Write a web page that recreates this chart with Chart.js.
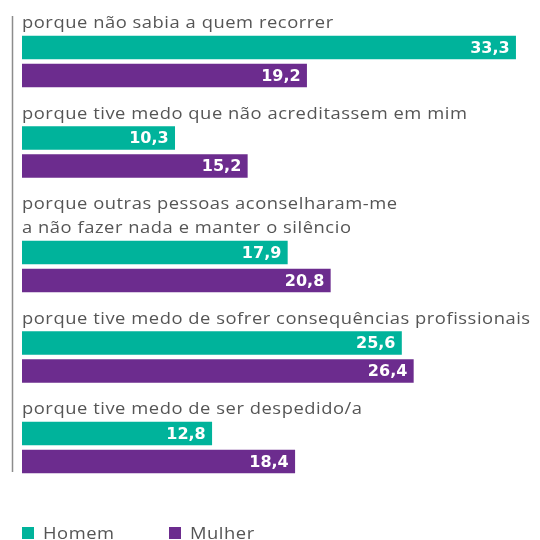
<!DOCTYPE html>
<html>
<head>
<meta charset="utf-8">
<script src="https://cdn.jsdelivr.net/npm/chart.js@4/dist/chart.umd.min.js"></script>
<style>
  html, body { margin: 0; padding: 0; background: #ffffff; }
  #wrap { width: 540px; height: 540px; position: relative; }
</style>
</head>
<body>
<div id="wrap"><canvas id="c" width="540" height="540"></canvas></div>
<script>
// ---- data ----
const categories = [
  ["porque não sabia a quem recorrer"],
  ["porque tive medo que não acreditassem em mim"],
  ["porque outras pessoas aconselharam-me", "a não fazer nada e manter o silêncio"],
  ["porque tive medo de sofrer consequências profissionais"],
  ["porque tive medo de ser despedido/a"]
];
const homem  = [33.3, 10.3, 17.9, 25.6, 12.8];
const mulher = [19.2, 15.2, 20.8, 26.4, 18.4];
const seriesNames = ["Homem", "Mulher"];

// ---- style / layout ----
const COLORS = ["#00B39B", "#6C2C8E"];
const TEXT_COLOR = "#555555";
const LINE_H = 24, BAR_H = 23, BAR_GAP = 5, GROUP_GAP = 15.5, TOP = 12;
const CAT_FONT = "17px 'Open Sans'";
const CAT_SPACING = "0.5px";
const CAT_STRETCH = 1.08;
const VAL_FONT = "bold 16px 'DejaVu Sans'";

// compute row centres (in pixel units of the y scale) from label line counts
const layout = [];
let cursor = TOP;
categories.forEach(lines => {
  const greenTop = cursor + lines.length * LINE_H;
  const c1 = greenTop + BAR_H / 2;
  const c2 = c1 + BAR_H + BAR_GAP;
  layout.push({ greenTop, c1, c2, lines });
  cursor = c2 + BAR_H / 2 + GROUP_GAP;
});

const dsH = homem.map((v, i) => ({ x: v, y: layout[i].c1 }));
const dsM = mulher.map((v, i) => ({ x: v, y: layout[i].c2 }));

function wideText(ctx, t, x, y) {
  ctx.save();
  ctx.translate(x, y);
  ctx.scale(CAT_STRETCH, 1);
  ctx.fillText(t, 0, 0);
  ctx.restore();
}

const decoPlugin = {
  id: 'deco',
  afterDatasetsDraw(chart) {
    const ctx = chart.ctx;
    const ys = chart.scales.y, xs = chart.scales.x;
    ctx.save();
    // vertical axis line
    ctx.strokeStyle = "#8c8c8c";
    ctx.lineWidth = 1.5;
    ctx.beginPath();
    ctx.moveTo(12.5, 16);
    ctx.lineTo(12.5, 472);
    ctx.stroke();
    // category labels
    ctx.fillStyle = TEXT_COLOR;
    ctx.font = CAT_FONT;
    ctx.letterSpacing = CAT_SPACING;
    ctx.textAlign = "left";
    ctx.textBaseline = "alphabetic";
    layout.forEach(g => {
      const topPx = ys.getPixelForValue(g.greenTop);
      const n = g.lines.length;
      g.lines.forEach((t, k) => {
        wideText(ctx, t, xs.left, topPx - 8 - (n - 1 - k) * LINE_H);
      });
    });
    // value labels
    ctx.letterSpacing = "0px";
    ctx.font = VAL_FONT;
    ctx.fillStyle = "#ffffff";
    ctx.textAlign = "right";
    ctx.textBaseline = "middle";
    chart.data.datasets.forEach((ds, di) => {
      const meta = chart.getDatasetMeta(di);
      meta.data.forEach((bar, i) => {
        const v = ds.data[i].x;
        ctx.fillText(v.toFixed(1).replace('.', ','), bar.x - 6, bar.y + 1);
      });
    });
    // legend
    ctx.font = CAT_FONT;
    ctx.letterSpacing = CAT_SPACING;
    ctx.textAlign = "left";
    ctx.textBaseline = "alphabetic";
    const legX = [22, 169];
    seriesNames.forEach((name, i) => {
      ctx.fillStyle = COLORS[i];
      ctx.fillRect(legX[i], 527, 12, 12);
      ctx.fillStyle = TEXT_COLOR;
      wideText(ctx, name, legX[i] + 21, 539);
    });
    ctx.restore();
  }
};

new Chart(document.getElementById('c'), {
  type: 'bar',
  data: {
    datasets: [
      { label: seriesNames[0], data: dsH, backgroundColor: COLORS[0], barThickness: BAR_H, grouped: false },
      { label: seriesNames[1], data: dsM, backgroundColor: COLORS[1], barThickness: BAR_H, grouped: false }
    ]
  },
  options: {
    indexAxis: 'y',
    responsive: false,
    animation: false,
    layout: { padding: { left: 22, right: 14, top: 0, bottom: 0 } },
    scales: {
      x: { type: 'linear', min: 0, max: 34, display: false, offset: false },
      y: { type: 'linear', min: 0, max: 540, reverse: true, display: false, offset: false }
    },
    plugins: { legend: { display: false }, tooltip: { enabled: false } }
  },
  plugins: [decoPlugin]
});
</script>
</body>
</html>
